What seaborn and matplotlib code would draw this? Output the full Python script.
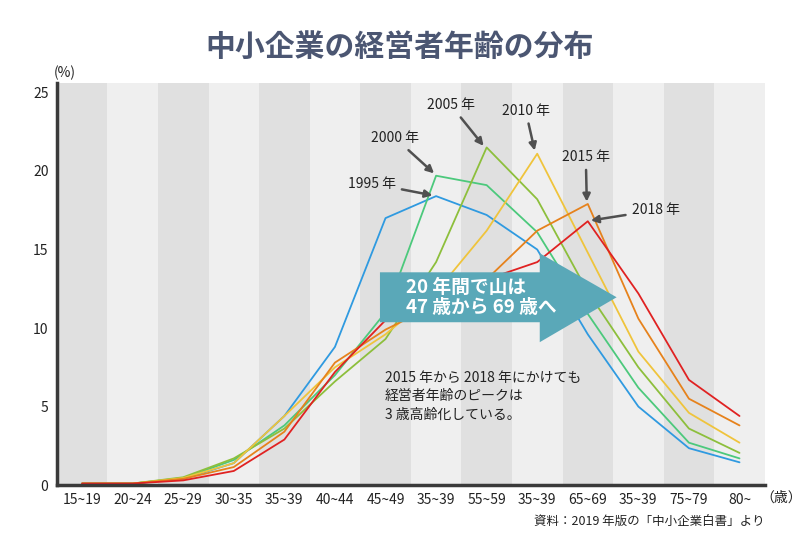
import pandas as pd
import matplotlib.pyplot as plt
from matplotlib.patches import Polygon
import seaborn as sns

# age groups (labels as printed in the source chart)
age_labels = ['15~19', '20~24', '25~29', '30~35', '35~39', '40~44', '45~49',
              '35~39', '55~59', '35~39', '65~69', '35~39', '75~79', '80~']

# share of SME managers per age group (%)
y1995 = [0.1, 0.1, 0.4, 1.4, 4.4, 8.8, 17.0, 18.4, 17.2, 15.0, 9.6, 5.0, 2.35, 1.45]
y2000 = [0.1, 0.1, 0.45, 1.6, 3.8, 7.0, 11.0, 19.7, 19.1, 16.1, 10.9, 6.2, 2.7, 1.7]
y2005 = [0.1, 0.1, 0.5, 1.7, 3.6, 6.6, 9.3, 14.2, 21.5, 18.2, 12.3, 7.5, 3.6, 2.05]
y2010 = [0.1, 0.1, 0.45, 1.4, 4.4, 7.5, 9.6, 12.3, 16.2, 21.1, 14.8, 8.5, 4.6, 2.7]
y2015 = [0.1, 0.1, 0.4, 1.15, 3.4, 7.8, 9.9, 11.5, 13.1, 16.2, 17.9, 10.6, 5.5, 3.8]
y2018 = [0.1, 0.1, 0.3, 0.9, 2.9, 7.2, 10.5, 12.0, 13.1, 14.2, 16.8, 12.2, 6.7, 4.4]

years = ['1995', '2000', '2005', '2010', '2015', '2018']
series = [y1995, y2000, y2005, y2010, y2015, y2018]
colors = ['#2f9ae0', '#4cc97c', '#8dbf3c', '#efc43c', '#e6821c', '#e02222']

rows = []
for yr, vals in zip(years, series):
    for i, v in enumerate(vals):
        rows.append({'pos': i, 'value': v, 'year': yr})
df = pd.DataFrame(rows)

sns.set_theme(style='white')
plt.rcParams['font.family'] = ['Noto Sans CJK JP', 'DejaVu Sans']

fig = plt.figure(figsize=(8, 5.5), dpi=100)
ax = fig.add_axes([0.071, 0.118, 0.885, 0.731])

# alternating grey column bands
for i in range(len(age_labels)):
    ax.axvspan(i - 0.5, i + 0.5, color='#e0e0e0' if i % 2 == 0 else '#efefef',
               lw=0, zorder=0)

sns.lineplot(data=df, x='pos', y='value', hue='year', palette=colors,
             linewidth=1.3, legend=False, ax=ax, zorder=2)

ax.set_xlim(-0.5, 13.5)
ax.set_ylim(0, 25.6)
ax.set_xticks(range(len(age_labels)))
ax.set_xticklabels(age_labels, fontsize=10, color='#222222')
ax.set_yticks([0, 5, 10, 15, 20, 25])
ax.set_yticklabels(['0', '5', '10', '15', '20', '25'], fontsize=10, color='#222222')
ax.tick_params(length=0, pad=6)
ax.set_xlabel('')
ax.set_ylabel('')
for s in ['top', 'right']:
    ax.spines[s].set_visible(False)
for s in ['left', 'bottom']:
    ax.spines[s].set_color('#3a3a3a')
    ax.spines[s].set_linewidth(2.5)
    ax.spines[s].set_zorder(5)

# year labels with arrows pointing at each peak
notes = [
    ('1995 年', (6.93, 18.45), (5.73, 19.2)),
    ('2000 年', (6.96, 19.85), (6.19, 22.1)),
    ('2005 年', (7.94, 21.6), (7.29, 24.2)),
    ('2010 年', (8.95, 21.3), (8.77, 23.85)),
    ('2015 年', (9.98, 18.05), (9.96, 20.9)),
    ('2018 年', (10.06, 16.85), (11.34, 17.5)),
]
for txt, tip, pos in notes:
    ax.annotate(txt, xy=tip, xytext=pos, ha='center', va='center',
                fontsize=10, color='#222222', zorder=6,
                arrowprops=dict(arrowstyle='-|>', color='#505050', lw=1.8,
                                mutation_scale=11, shrinkA=2, shrinkB=0))

# big teal arrow
arrow = Polygon([(5.89, 13.55), (9.05, 13.55), (9.05, 14.76), (10.57, 11.96),
                 (9.05, 9.1), (9.05, 10.37), (5.89, 10.37)],
                closed=True, facecolor='#5aa8b8', edgecolor='none', zorder=4)
ax.add_patch(arrow)
ax.text(6.4, 11.95, '20 年間で山は\n47 歳から 69 歳へ', fontsize=13.5,
        fontweight='bold', color='white', va='center', ha='left',
        linespacing=1.1, zorder=6)

ax.text(5.98, 5.66, '2015 年から 2018 年にかけても\n経営者年齢のピークは\n3 歳高齢化している。',
        fontsize=10, color='#222222', va='center', ha='left', linespacing=1.4,
        zorder=6)

fig.text(0.5, 0.915, '中小企業の経営者年齢の分布', ha='center', va='center',
         fontsize=21.5, fontweight='bold', color='#4b5672')
fig.text(0.081, 0.867, '(%)', ha='center', va='center', fontsize=10, color='#222222')
fig.text(0.95, 0.096, '（歳）', ha='left', va='center', fontsize=10, color='#222222')
fig.text(0.956, 0.051, '資料：2019 年版の「中小企業白書」より', ha='right',
         va='center', fontsize=9, color='#222222')

fig.savefig('out.png', dpi=100, facecolor='white')
